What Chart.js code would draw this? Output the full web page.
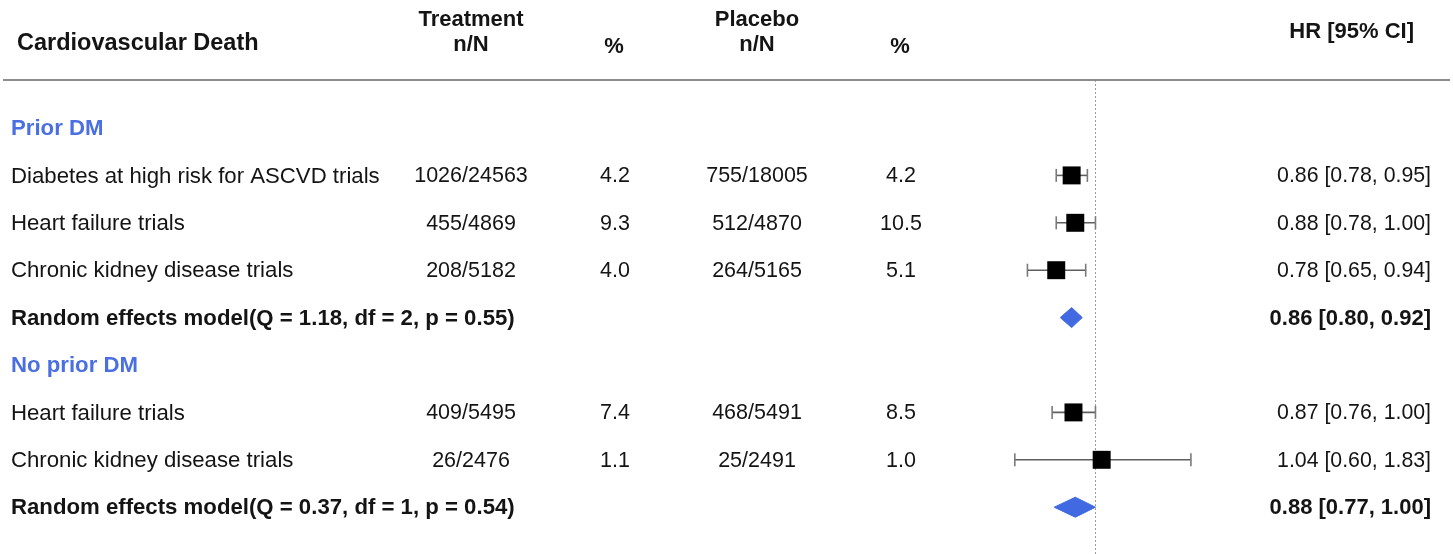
<!DOCTYPE html>
<html><head><meta charset="utf-8">
<script src="https://cdn.jsdelivr.net/npm/chart.js@4.4.1/dist/chart.umd.min.js"></script>
<style>html,body{margin:0;padding:0;background:#fff;}canvas{display:block;}</style>
</head><body>
<canvas id="c" width="1453" height="554"></canvas>
<script>
// ---- data ----
const titleText = 'Cardiovascular Death';
const rowLabels = ['Prior DM', 'Diabetes at high risk for ASCVD trials', 'Heart failure trials', 'Chronic kidney disease trials', 'Random effects model(Q = 1.18, df = 2, p = 0.55)', 'No prior DM', 'Heart failure trials', 'Chronic kidney disease trials', 'Random effects model(Q = 0.37, df = 1, p = 0.54)'];
const rowTypes = ['group', 'study', 'study', 'study', 'summary', 'group', 'study', 'study', 'summary'];
const treatmentNN = ['', '1026/24563', '455/4869', '208/5182', '', '', '409/5495', '26/2476', ''];
const treatmentPct = ['', '4.2', '9.3', '4.0', '', '', '7.4', '1.1', ''];
const placeboNN = ['', '755/18005', '512/4870', '264/5165', '', '', '468/5491', '25/2491', ''];
const placeboPct = ['', '4.2', '10.5', '5.1', '', '', '8.5', '1.0', ''];
const hrEst = [null, 0.86, 0.88, 0.78, 0.86, null, 0.87, 1.04, 0.88];
const ciLower = [null, 0.78, 0.78, 0.65, 0.80, null, 0.76, 0.60, 0.77];
const ciUpper = [null, 0.95, 1.00, 0.94, 0.92, null, 1.00, 1.83, 1.00];
const referenceHR = 1;

// ---- styling ----
const FONT = "'Liberation Sans', Arial, sans-serif";
const BLUE = '#4169E1';
const GROUP_BLUE = '#4a6fe3';
const TEXT = '#141414';
const Y_MIN = -1.0127, Y_MAX = 8.9873;
const DIAMOND_HALF = 0.211;

const datasets = [];
// study squares
datasets.push({
  label: 'HR',
  data: rowTypes.map((t, i) => t === 'study' ? {x: hrEst[i], y: i} : null).filter(Boolean),
  showLine: false,
  pointStyle: 'rect',
  pointRadius: 12.7,
  pointBackgroundColor: '#000',
  pointBorderColor: '#000',
  pointBorderWidth: 0,
  order: 0
});
// CI whiskers
rowTypes.forEach((t, i) => {
  if (t !== 'study') return;
  datasets.push({
    label: 'CI ' + i,
    data: [{x: ciLower[i], y: i}, {x: ciUpper[i], y: i}],
    showLine: true,
    borderColor: '#5e5e5e',
    borderWidth: 1.6,
    pointStyle: 'line',
    pointRotation: 90,
    pointRadius: 6.5,
    pointBorderColor: '#7a7a7a',
    pointBorderWidth: 1.6,
    order: 1
  });
});
// summary diamonds (upper half filled down to lower half)
rowTypes.forEach((t, i) => {
  if (t !== 'summary') return;
  datasets.push({
    label: 'Summary upper ' + i,
    data: [{x: ciLower[i], y: i}, {x: hrEst[i], y: i - DIAMOND_HALF}, {x: ciUpper[i], y: i}],
    showLine: true,
    borderColor: BLUE,
    borderWidth: 1,
    backgroundColor: BLUE,
    fill: '+1',
    pointRadius: 0,
    tension: 0,
    order: 0
  });
  datasets.push({
    label: 'Summary lower ' + i,
    data: [{x: ciLower[i], y: i}, {x: hrEst[i], y: i + DIAMOND_HALF}, {x: ciUpper[i], y: i}],
    showLine: true,
    borderColor: BLUE,
    borderWidth: 1,
    backgroundColor: BLUE,
    fill: false,
    pointRadius: 0,
    tension: 0,
    order: 0
  });
});
// reference line
datasets.push({
  label: 'ref',
  data: [{x: referenceHR, y: Y_MIN}, {x: referenceHR, y: Y_MAX}],
  showLine: true,
  borderColor: '#9a9a9a',
  borderWidth: 1,
  borderDash: [2, 2],
  pointRadius: 0,
  order: 3
});

const tablePlugin = {
  id: 'tableText',
  afterDraw(chart) {
    const ctx = chart.ctx;
    const ys = chart.scales.y;
    ctx.save();
    // header rule
    ctx.strokeStyle = '#8c8c8c';
    ctx.lineWidth = 2;
    ctx.beginPath();
    ctx.moveTo(3, 80);
    ctx.lineTo(1450, 80);
    ctx.stroke();

    ctx.fillStyle = TEXT;
    ctx.textBaseline = 'middle';
    // headers
    ctx.font = 'bold 23.5px ' + FONT;
    ctx.textAlign = 'left';
    ctx.fillText(titleText, 17, 44);
    ctx.font = 'bold 22px ' + FONT;
    ctx.textAlign = 'center';
    ctx.fillText('Treatment', 471, 20);
    ctx.fillText('n/N', 471, 45);
    ctx.fillText('%', 614, 47);
    ctx.fillText('Placebo', 757, 20);
    ctx.fillText('n/N', 757, 45);
    ctx.fillText('%', 900, 47);
    ctx.textAlign = 'right';
    ctx.fillText('HR [95% CI]', 1414, 32);

    rowLabels.forEach((lab, i) => {
      const y = ys.getPixelForValue(i) + 1;
      const t = rowTypes[i];
      const weight = t === 'study' ? '' : 'bold ';
      ctx.font = weight + '22.2px ' + FONT;
      ctx.fillStyle = t === 'group' ? GROUP_BLUE : TEXT;
      ctx.textAlign = 'left';
      ctx.fillText(lab, 11, y);
      ctx.fillStyle = TEXT;
      ctx.font = weight + '21.5px ' + FONT;
      ctx.textAlign = 'center';
      if (treatmentNN[i]) ctx.fillText(treatmentNN[i], 471, y);
      if (treatmentPct[i]) ctx.fillText(treatmentPct[i], 615, y);
      if (placeboNN[i]) ctx.fillText(placeboNN[i], 757, y);
      if (placeboPct[i]) ctx.fillText(placeboPct[i], 901, y);
      if (hrEst[i] != null) {
        ctx.textAlign = 'right';
        ctx.font = weight + (t === 'summary' ? '22px ' : '21.3px ') + FONT;
        ctx.fillText(hrEst[i].toFixed(2) + ' [' + ciLower[i].toFixed(2) + ', ' + ciUpper[i].toFixed(2) + ']', 1431, y);
      }
    });
    ctx.restore();
  }
};

new Chart(document.getElementById('c'), {
  type: 'scatter',
  data: {datasets},
  options: {
    responsive: false,
    animation: false,
    events: [],
    devicePixelRatio: 1,
    layout: {autoPadding: false, padding: {left: 986, right: 233, top: 80, bottom: 0}},
    plugins: {legend: {display: false}, tooltip: {enabled: false}},
    scales: {
      x: {type: 'logarithmic', min: 0.5, max: 2.2, bounds: 'data', display: false},
      y: {type: 'linear', min: Y_MIN, max: Y_MAX, reverse: true, display: false}
    }
  },
  plugins: [tablePlugin]
});
</script>
</body></html>
